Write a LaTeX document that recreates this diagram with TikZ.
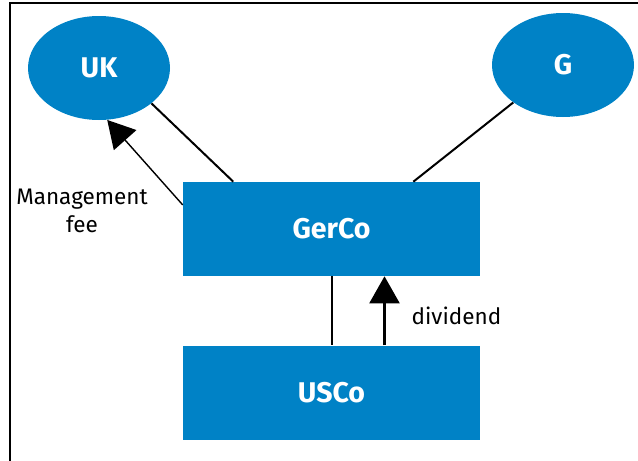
\documentclass[tikz,border=0pt]{standalone}
\usepackage{fontspec}
\setmainfont{Fira Sans}
\usepackage{tikz}
\usetikzlibrary{arrows.meta,calc,positioning,shapes.geometric}
\definecolor{entblue}{RGB}{0,130,198}

\begin{document}
\begin{tikzpicture}[x=1pt,y=-1pt, semithick,
    country/.style={ellipse, fill=entblue, text=white, minimum width=142pt, minimum height=104pt,
      inner sep=0pt, font=\fontsize{28.5}{32}\selectfont\bfseries},
    company/.style={rectangle, fill=entblue, text=white, minimum width=297pt, minimum height=94pt,
      inner sep=0pt, font=\fontsize{28.5}{32}\selectfont\bfseries},
    link/.style={line width=2pt},
    flow/.style={line width=1.5pt, -{Triangle[length=27pt,width=30pt]}},
    lbl/.style={font=\fontsize{22.5}{28}\selectfont, align=center}]
      \useasboundingbox (0,0) rectangle (638,461);
      \draw [line width=2pt] (10,461) -- (10,3) -- (638,3);
      \node [country] (uk) at (99,68) {UK};
      \node [country] (g) at (563,65) {G};
      \node [company] (gerco) at (331.5,229) {GerCo};
      \node [company] (usco) [below=69pt of gerco] {USCo};
      \path
      (uk.-34) edge [link] ($(gerco.north west)!0.17!(gerco.north east)$)
      (g.217) edge [link] ($(gerco.north west)!0.775!(gerco.north east)$)
      (gerco.south) edge [link] (usco.north)
      ;
      \draw [flow, line width=1.4pt] ($(gerco.north west)!0.245!(gerco.south west)$) -- (uk.-81);
      \draw [flow, line width=2.2pt] ([xshift=53pt]usco.north) -- ([xshift=53pt]gerco.south);
      \node [lbl] (mfee) at (82,211) {Management\\fee};
      \node [lbl, anchor=west] (div) at (408,316) {dividend};
  \end{tikzpicture}
\end{document}
